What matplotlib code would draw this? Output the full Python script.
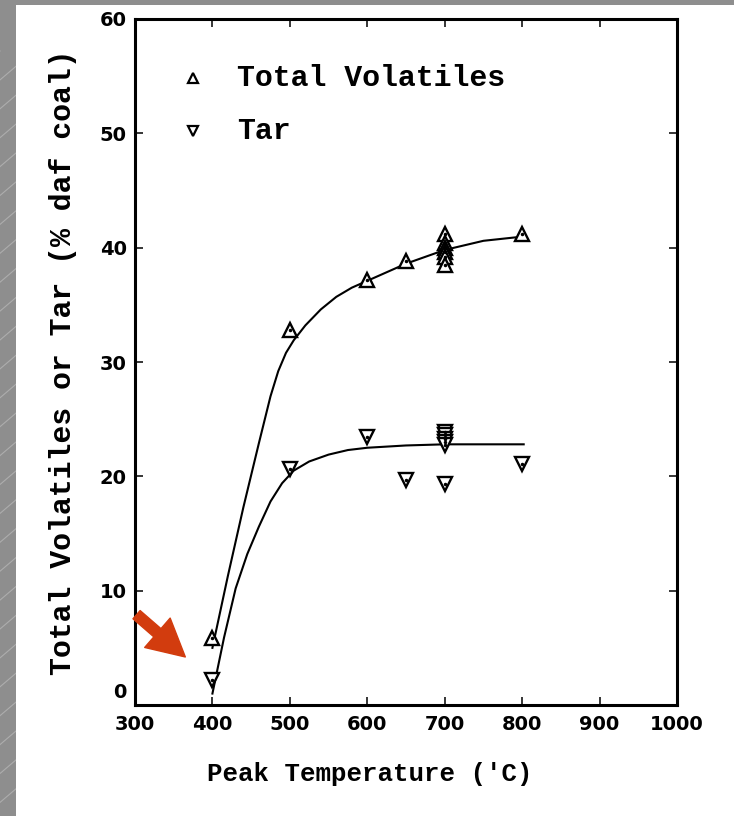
import matplotlib
matplotlib.use("Agg")
import matplotlib.pyplot as plt
import matplotlib.transforms as mtransforms
import numpy as np

# measured points, total volatiles (% daf coal)
tv_temp = [400, 500, 600, 650, 700, 700, 700, 700, 700, 700, 800]
tv_yield = [5.9, 32.8, 37.2, 38.8, 41.2, 40.4, 40.0, 39.6, 39.2, 38.5, 41.2]

# measured points, tar
tar_temp = [400, 500, 600, 650, 700, 700, 700, 700, 700, 700, 800]
tar_yield = [2.2, 20.6, 23.4, 19.7, 23.9, 23.6, 23.3, 23.0, 22.7, 19.3, 21.1]

# fitted curves
tv_fit_t = [400, 420, 440, 460, 475, 485, 495, 505, 520, 540, 560, 580, 600,
            650, 700, 750, 805]
tv_fit_y = [5.0, 11.3, 17.3, 22.9, 27.0, 29.2, 30.8, 31.9, 33.2, 34.6, 35.7,
            36.5, 37.1, 38.6, 39.8, 40.6, 41.0]
tar_fit_t = [400, 415, 430, 445, 460, 475, 490, 505, 525, 550, 575, 600, 650,
             700, 750, 802]
tar_fit_y = [1.0, 5.9, 10.2, 13.2, 15.6, 17.8, 19.4, 20.5, 21.3, 21.9, 22.3,
             22.5, 22.7, 22.8, 22.8, 22.8]

x_ticks = [300, 400, 500, 600, 700, 800, 900, 1000]
y_ticks = [0, 10, 20, 30, 40, 50, 60]

arrow_tail = (302.0, 7.9)
arrow_tip = (365.0, 4.2)

W, H = 734, 816
fig = plt.figure(figsize=(W / 100, H / 100), dpi=100)
fig.patch.set_facecolor("#8e8e8e")

# slide backdrop: grey with light diagonal streaks, white panel on top
bg = fig.add_axes([0, 0, 1, 1])
bg.set_xlim(0, W)
bg.set_ylim(H, 0)
bg.axis("off")
for x0 in np.arange(-900, W + 100, 34):
    bg.plot([x0, x0 + 900], [H, H - 900 * 0.85], color="#adadad", lw=0.8, zorder=1)
bg.add_patch(plt.Rectangle((16, 5), W, H, facecolor="white", edgecolor="none", zorder=5))

ax = fig.add_axes([135 / W, 1 - 705 / H, 542 / W, 686 / H])
ax.set_facecolor("none")

ax.plot(tv_fit_t, tv_fit_y, color="black", lw=1.5, zorder=2)
ax.plot(tar_fit_t, tar_fit_y, color="black", lw=1.5, zorder=2)

mk = dict(ls="none", ms=10, mfc="white", mec="black", mew=1.7, zorder=3)
ax.plot(tv_temp, tv_yield, marker="^", **mk)
ax.plot(tar_temp, tar_yield, marker="v", **mk)
ax.plot(tv_temp, tv_yield, ls="none", marker="o", ms=1.5, color="black", zorder=4)
ax.plot(tar_temp, tar_yield, ls="none", marker="o", ms=1.5, color="black", zorder=4)

ax.set_xlim(300, 1000)
ax.set_ylim(0, 60)
ax.set_xticks(x_ticks)
ax.set_yticks(y_ticks)
ax.tick_params(direction="in", length=6, width=1.1, top=True, right=True,
               labelsize=14)
ax.tick_params(axis="x", pad=7)
ax.tick_params(axis="y", pad=6)
for lab in ax.get_xticklabels() + ax.get_yticklabels():
    lab.set_fontweight("bold")
    lab.set_family("DejaVu Sans")
# the zero label sits a little above the axis line
zero = ax.get_yticklabels()[0]
zero.set_transform(zero.get_transform() +
                   mtransforms.ScaledTranslation(0, 14 / 100, fig.dpi_scale_trans))
for s in ax.spines.values():
    s.set_linewidth(2.2)

mono = dict(family="Liberation Mono", fontweight="bold")
ax.set_xlabel("Peak Temperature ('C)", fontsize=18.5, **mono)
ax.xaxis.set_label_coords(0.434, -0.083)
ax.set_ylabel("Total Volatiles or Tar (% daf coal)", fontsize=21.5, labelpad=16, **mono)

# key in the upper left
key = [("^", "Total Volatiles", 0.914), ("v", "Tar", 0.837)]
for m, txt, yy in key:
    ax.plot([0.107], [yy], marker=m, ms=7, mfc="white", mec="black", mew=1.6,
            transform=ax.transAxes, clip_on=False)
    ax.text(0.188, yy, txt, transform=ax.transAxes, va="center", ha="left",
            fontsize=21.5, **mono)

ax.annotate("", xy=arrow_tip, xytext=arrow_tail,
            arrowprops=dict(arrowstyle="simple,head_width=1.0,head_length=0.95,tail_width=0.28",
                            color="#d23c0e", mutation_scale=28, shrinkA=0, shrinkB=0),
            annotation_clip=False)

fig.savefig("out.png", dpi=100, facecolor=fig.get_facecolor())
